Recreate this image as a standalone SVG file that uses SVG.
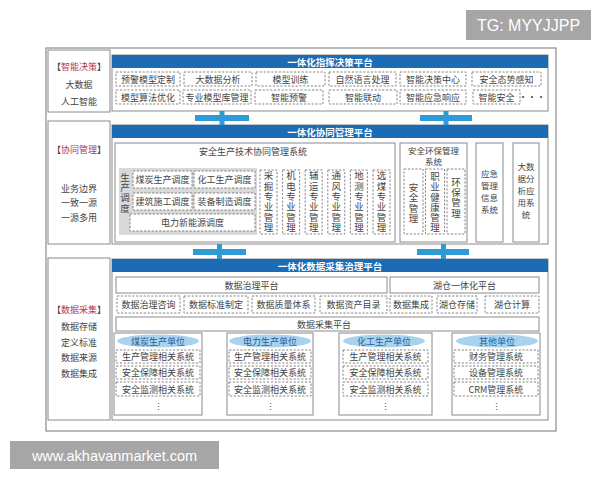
<svg xmlns="http://www.w3.org/2000/svg" width="600" height="480" viewBox="0 0 600 480">
<style>
text{font-family:"Noto Sans CJK SC","Noto Sans",sans-serif;}
.t{font-size:9px;fill:#444;text-anchor:middle;dominant-baseline:central;}
.t2{font-size:8.5px;fill:#444;text-anchor:middle;dominant-baseline:central;}
.vt{font-size:9.5px;fill:#444;writing-mode:vertical-rl;text-anchor:middle;dominant-baseline:central;letter-spacing:0.9px;}
.h{font-size:9.5px;fill:#fff;font-weight:bold;text-anchor:middle;dominant-baseline:central;}
.u{font-size:9px;fill:#2a5d9a;text-anchor:middle;dominant-baseline:central;}
.r{fill:#b03a48;}
.d{fill:#fff;stroke:#666;stroke-width:0.8;stroke-dasharray:2.2 1.6;}
.s{fill:#fff;stroke:#8a8a8a;stroke-width:1;}
.hdr{fill:#1b6cb5;}
.bar{fill:#2f9bd6;}
.ell{fill:#a8d3ee;}
.wm{fill:#a6a6a6;}
.wt{font-family:"Liberation Sans",Arial,sans-serif;fill:#fff;dominant-baseline:central;text-anchor:middle;}
</style>
<rect width="600" height="480" fill="#fff"/>

<!-- watermarks -->
<g id="wm-tg"><rect class="wm" x="466" y="10" width="125" height="30"/><text class="wt" x="528.5" y="25.5" font-size="16">TG: MYYJJPP</text></g>
<g id="wm-www"><rect class="wm" x="10" y="441" width="209" height="28"/><text class="wt" x="114.5" y="455.5" font-size="14.5">www.akhavanmarket.com</text></g>

<!-- outer frame -->
<rect x="46" y="48" width="510" height="383" fill="none" stroke="#8a8a8a" stroke-width="1.2"/>

<!-- ========== Row 1: 智能决策 ========== -->
<g id="label-decision">
<rect class="s" x="48" y="50" width="62" height="62"/>
<text class="t" x="79" y="66">【<tspan class="r">智能决策</tspan>】</text>
<text class="t" x="79" y="84">大数据</text>
<text class="t" x="79" y="101">人工智能</text>
</g>
<g id="platform-decision">
<rect class="s" x="112" y="55" width="436" height="56"/>
<rect class="hdr" x="112" y="55" width="436" height="13"/>
<text class="h" x="330" y="61.5">一体化指挥决策平台</text>
<rect class="d" x="116" y="72" width="64" height="14"/><text class="t" x="148" y="79">预警模型定制</text>
<rect class="d" x="184" y="72" width="68" height="14"/><text class="t" x="218" y="79">大数据分析</text>
<rect class="d" x="256" y="72" width="69" height="14"/><text class="t" x="290.5" y="79">模型训练</text>
<rect class="d" x="329" y="72" width="67" height="14"/><text class="t" x="362.5" y="79">自然语言处理</text>
<rect class="d" x="400" y="72" width="66" height="14"/><text class="t" x="433" y="79">智能决策中心</text>
<rect class="d" x="472" y="72" width="69" height="14"/><text class="t" x="506.5" y="79">安全态势感知</text>
<rect class="d" x="116" y="90" width="64" height="14"/><text class="t" x="148" y="97">模型算法优化</text>
<rect class="d" x="183" y="90" width="68" height="14"/><text class="t" x="217" y="97">专业模型库管理</text>
<rect class="d" x="255" y="90" width="68" height="14"/><text class="t" x="289" y="97">智能预警</text>
<rect class="d" x="329" y="90" width="68" height="14"/><text class="t" x="363" y="97">智能联动</text>
<rect class="d" x="400" y="90" width="66" height="14"/><text class="t" x="433" y="97">智能应急响应</text>
<rect class="d" x="473" y="90" width="47" height="14"/><text class="t" x="496.5" y="97">智能安全</text>
<text class="t" x="532" y="96">···</text>
</g>

<!-- ========== Row 2: 协同管理 ========== -->
<g id="label-collab">
<rect class="s" x="48" y="121" width="62" height="123"/>
<text class="t" x="79" y="149">【<tspan class="r">协同管理</tspan>】</text>
<text class="t" x="79" y="188">业务边界</text>
<text class="t" x="79" y="202">一致一源</text>
<text class="t" x="79" y="217">一源多用</text>
</g>
<g id="platform-collab">
<rect class="s" x="112" y="125" width="436" height="119"/>
<rect class="hdr" x="112" y="125" width="436" height="13"/>
<text class="h" x="330" y="131.5">一体化协同管理平台</text>
</g>
<g id="sys-safety-prod">
<rect class="s" x="115" y="143" width="280" height="99"/>
<text class="t" x="253" y="151">安全生产技术协同管理系统</text>
<rect x="119" y="168" width="138" height="67" fill="#d9d9d9"/>
<text class="vt" x="125" y="193">生产调度</text>
<rect class="d" x="133" y="171" width="59" height="17"/><text class="t" x="162.5" y="179.5">煤炭生产调度</text>
<rect class="d" x="194" y="171" width="61" height="17"/><text class="t" x="224.5" y="179.5">化工生产调度</text>
<rect class="d" x="133" y="193" width="59" height="17"/><text class="t" x="162.5" y="201.5">建筑施工调度</text>
<rect class="d" x="194" y="193" width="61" height="17"/><text class="t" x="224.5" y="201.5">装备制造调度</text>
<rect class="d" x="130" y="214" width="125" height="17"/><text class="t" x="192.5" y="222.5">电力新能源调度</text>
<rect class="d" x="260" y="170" width="17" height="64"/><text class="vt" x="268.5" y="202">采掘专业管理</text>
<rect class="d" x="282.6" y="170" width="17" height="64"/><text class="vt" x="291.1" y="202">机电专业管理</text>
<rect class="d" x="305.2" y="170" width="17" height="64"/><text class="vt" x="313.7" y="202">辅运专业管理</text>
<rect class="d" x="327.8" y="170" width="17" height="64"/><text class="vt" x="336.3" y="202">通风专业管理</text>
<rect class="d" x="350.4" y="170" width="17" height="64"/><text class="vt" x="358.9" y="202">地测专业管理</text>
<rect class="d" x="373" y="170" width="17" height="64"/><text class="vt" x="381.5" y="202">选煤专业管理</text>
</g>
<g id="sys-env">
<rect class="s" x="400" y="143" width="67" height="99"/>
<text class="t2" x="433.5" y="149.5">安全环保管理</text>
<text class="t2" x="433.5" y="161">系统</text>
<rect class="d" x="404" y="169" width="19" height="65"/><text class="vt" x="413.5" y="203.5">安全管理</text>
<rect class="d" x="425.5" y="169" width="19" height="65"/><text class="vt" x="435" y="202.5" style="letter-spacing:0.7px">职业健康管理</text>
<rect class="d" x="447" y="169" width="18" height="65"/><text class="vt" x="456" y="198">环保管理</text>
</g>
<g id="sys-emergency">
<rect class="s" x="476" y="143" width="27" height="99"/>
<text class="t2" x="489.5" y="173">应急</text>
<text class="t2" x="489.5" y="185">管理</text>
<text class="t2" x="489.5" y="197">信息</text>
<text class="t2" x="489.5" y="209">系统</text>
</g>
<g id="sys-bigdata">
<rect class="s" x="513" y="143" width="26" height="99"/>
<text class="t2" x="526" y="166">大数</text>
<text class="t2" x="526" y="178">据分</text>
<text class="t2" x="526" y="190">析应</text>
<text class="t2" x="526" y="202">用系</text>
<text class="t2" x="526" y="214">统</text>
</g>

<!-- ========== Row 3: 数据采集 ========== -->
<g id="label-data">
<rect class="s" x="48" y="258" width="62" height="162"/>
<text class="t" x="79" y="309">【<tspan class="r">数据采集</tspan>】</text>
<text class="t" x="79" y="326">数据存储</text>
<text class="t" x="79" y="342">定义标准</text>
<text class="t" x="79" y="357">数据来源</text>
<text class="t" x="79" y="373">数据集成</text>
</g>
<g id="platform-data">
<rect class="s" x="112" y="259" width="436" height="161"/>
<rect class="hdr" x="112" y="259" width="436" height="13"/>
<text class="h" x="330" y="265.5">一体化数据采集治理平台</text>
<rect class="s" x="116" y="277" width="271" height="16"/><text class="t" x="251.5" y="285">数据治理平台</text>
<rect class="s" x="390" y="277" width="149" height="16"/><text class="t" x="464.5" y="285">湖仓一体化平台</text>
<rect class="d" x="117" y="296" width="63" height="17"/><text class="t" x="148.5" y="304.5">数据治理咨询</text>
<rect class="d" x="184" y="296" width="64" height="17"/><text class="t" x="216" y="304.5">数据标准制定</text>
<rect class="d" x="252" y="296" width="63" height="17"/><text class="t" x="283.5" y="304.5">数据质量体系</text>
<rect class="d" x="320" y="296" width="67" height="17"/><text class="t" x="353.5" y="304.5">数据资产目录</text>
<rect class="d" x="390" y="296" width="42" height="17"/><text class="t" x="411" y="304.5">数据集成</text>
<rect class="d" x="437" y="296" width="40" height="17"/><text class="t" x="457" y="304.5">湖仓存储</text>
<rect class="d" x="485" y="296" width="54" height="17"/><text class="t" x="512" y="304.5">湖仓计算</text>
<rect class="s" x="116" y="317" width="423" height="14"/><text class="t" x="324" y="324">数据采集平台</text>
</g>
<g id="unit-coal">
<rect class="s" x="114" y="333" width="88" height="82"/>
<ellipse class="ell" cx="158" cy="341" rx="41" ry="6.5"/><text class="u" x="158" y="341">煤炭生产单位</text>
<rect class="d" x="116" y="350" width="84" height="13"/><text class="t" x="158" y="356.5">生产管理相关系统</text>
<rect class="d" x="116" y="366" width="84" height="13"/><text class="t" x="158" y="372.5">安全保障相关系统</text>
<rect class="d" x="116" y="382" width="84" height="14"/><text class="t" x="158" y="389">安全监测相关系统</text>
<text class="t" x="158" y="406">⋮</text>
</g>
<g id="unit-power">
<rect class="s" x="227" y="333" width="86" height="82"/>
<ellipse class="ell" cx="270" cy="341" rx="41" ry="6.5"/><text class="u" x="270" y="341">电力生产单位</text>
<rect class="d" x="229" y="350" width="82" height="13"/><text class="t" x="270" y="356.5">生产管理相关系统</text>
<rect class="d" x="229" y="366" width="82" height="13"/><text class="t" x="270" y="372.5">安全保障相关系统</text>
<rect class="d" x="229" y="382" width="82" height="14"/><text class="t" x="270" y="389">安全监测相关系统</text>
<text class="t" x="270" y="406">⋮</text>
</g>
<g id="unit-chem">
<rect class="s" x="339" y="333" width="93" height="82"/>
<ellipse class="ell" cx="384" cy="341" rx="41" ry="6.5"/><text class="u" x="384" y="341">化工生产单位</text>
<rect class="d" x="343" y="350" width="85" height="13"/><text class="t" x="385.5" y="356.5">生产管理相关系统</text>
<rect class="d" x="343" y="366" width="85" height="13"/><text class="t" x="385.5" y="372.5">安全保障相关系统</text>
<rect class="d" x="343" y="382" width="85" height="14"/><text class="t" x="385.5" y="389">安全监测相关系统</text>
<text class="t" x="385.5" y="406">⋮</text>
</g>
<g id="unit-other">
<rect class="s" x="452" y="333" width="88" height="82"/>
<ellipse class="ell" cx="497" cy="341" rx="41" ry="6.5"/><text class="u" x="497" y="341">其他单位</text>
<rect class="d" x="454" y="350" width="84" height="13"/><text class="t" x="496" y="356.5">财务管理系统</text>
<rect class="d" x="454" y="366" width="84" height="13"/><text class="t" x="496" y="372.5">设备管理系统</text>
<rect class="d" x="454" y="382" width="84" height="14"/><text class="t" x="496" y="389">CRM管理系统</text>
<text class="t" x="496" y="406">⋮</text>
</g>

<!-- connectors -->
<g id="connectors">
<rect class="bar" x="195" y="115" width="54" height="6"/><rect class="bar" x="219.5" y="111" width="5" height="14"/>
<rect class="bar" x="420" y="115" width="52" height="6"/><rect class="bar" x="443.5" y="111" width="5" height="14"/>
<rect class="bar" x="193" y="249" width="53" height="6"/><rect class="bar" x="217" y="244" width="5" height="15"/>
<rect class="bar" x="417" y="249" width="52" height="6"/><rect class="bar" x="441" y="244" width="5" height="15"/>
</g>
</svg>
